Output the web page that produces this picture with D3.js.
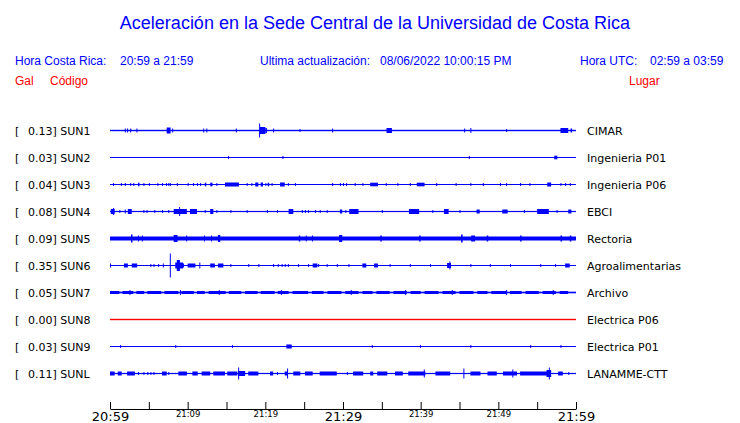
<!DOCTYPE html>
<html><head><meta charset="utf-8">
<script src="https://cdn.jsdelivr.net/npm/d3@7"></script>
<style>body{margin:0;background:#fff}svg{display:block}</style>
</head><body>
<svg id="c" width="740" height="423"></svg>
<script>
// ---------- data ----------
const codes  = ["SUN1","SUN2","SUN3","SUN4","SUN5","SUN6","SUN7","SUN8","SUN9","SUNL"];
const gal    = ["0.13","0.03","0.04","0.08","0.09","0.35","0.05","0.00","0.03","0.11"];
const places = ["CIMAR","Ingenieria P01","Ingenieria P06","EBCI","Rectoria","Agroalimentarias","Archivo","Electrica P06","Electrica P01","LANAMME-CTT"];
const noise  = [0.7,0.5,0.5,0.6,2.0,0.5,0.8,0.7,0.5,0.6];   // background noise level
const tickMinutes = [0,5,10,15,20,25,30,35,40,45,50,55,60];
const tickLabels  = ["20:59","21:09","21:19","21:29","21:39","21:49","21:59"];
// bursts: [start minute, end minute, half amplitude]
const b1 = [[1.9,2.0,2],[2.2,2.3,2],[2.6,2.6,2],[3.4,3.4,2],[7.3,7.8,3],[8.0,8.0,2],[12.0,12.0,2],[12.4,12.4,2],[16.2,16.2,2],
  [19.2,19.2,7],[19.3,20.0,3.5],[20.0,20.2,2.5],[21.0,21.0,2],[24.4,24.4,1.5],[28.6,28.6,2],[35.6,36.3,2.5],[45.6,45.6,2],[46.4,46.4,2.5],
  [51.0,51.0,1.5],[58.0,59.0,2.5],[59.3,59.5,2]];
const b2 = [[15.2,15.2,1.5],[22.2,22.2,1.5],[46.2,46.2,1.5],[57.2,57.6,1.8]];
const b3 = [[0.4,0.4,1.5],[1.4,1.4,1.5],[1.9,1.9,1.5],[2.6,2.6,1.5],[3.0,3.0,1.5],[3.6,3.8,1.8],[4.3,4.3,1.5],[5.0,5.0,1.5],[6.1,6.1,1.5],
  [6.7,6.7,1.5],[7.2,7.2,1.5],[7.5,7.5,1.5],[7.7,7.7,1.5],[8.6,8.6,1.5],[10.0,10.0,1.5],[10.7,10.7,1.5],[11.2,11.2,1.5],[11.6,11.6,1.5],
  [12.2,12.4,1.8],[12.9,13.2,1.8],[13.7,13.7,1.5],[14.8,16.6,2],[17.6,17.6,1.5],[18.2,18.2,1.5],[18.7,19.1,2],[19.4,19.7,2],[20.0,20.0,1.5],
  [20.3,20.5,1.8],[20.8,20.8,1.5],[21.9,22.5,2],[22.9,22.9,1.5],[23.8,23.8,1.5],[28.6,28.6,1.5],[29.6,29.6,1.5],[30.0,30.0,1.5],[30.4,30.4,1.5],
  [31.5,31.5,1.5],[32.5,32.5,1.5],[33.5,34.5,1.8],[35.5,35.5,1.5],[37.0,37.0,1.5],[38.6,38.6,1.5],[39.5,40.5,1.8],[42.0,42.0,1.5],
  [44.5,44.5,1.5],[46.4,46.4,1.5],[48.0,48.0,1.5],[50.2,50.2,1.5],[51.0,51.0,1.5],[52.8,52.8,1.5],[54.0,54.0,1.5],[56.3,56.8,2],
  [58.0,58.0,1.5],[58.6,58.6,1.5],[59.2,59.2,1.5]];
const b4 = [[0.1,0.6,2.5],[0.4,0.4,3.5],[1.2,1.2,1.5],[1.9,1.9,2],[2.3,2.8,2.5],[4.3,4.3,1.5],[4.7,4.7,1.5],[5.7,5.7,1.5],[6.7,6.7,1.5],
  [7.5,7.5,1.5],[8.2,9.9,2.5],[8.9,8.9,4.5],[10.3,11.2,2.5],[12.2,12.2,1.5],[12.9,13.3,2.5],[13.7,13.7,1.5],[15.5,15.5,1.5],[17.6,17.6,1.5],
  [20.2,20.2,1.5],[21.5,21.5,1.5],[23.0,23.6,2.5],[24.7,24.7,1.5],[25.1,25.1,1.5],[25.5,25.5,1.5],[26.4,26.4,1.5],[27.0,27.0,1.5],
  [27.9,27.9,1.5],[29.6,29.9,2],[30.3,30.3,1.5],[30.8,32.0,2.5],[35.0,35.0,1.5],[38.5,39.8,2.5],[41.5,41.5,1.5],[43.0,43.6,2.5],
  [45.0,45.0,1.5],[47.2,47.6,2],[50.5,51.2,2],[53.3,53.3,1.5],[55.0,56.5,2.5],[57.5,57.5,1.5],[59.0,59.4,2]];
const b5 = [[2.7,2.9,4],[3.6,3.6,3],[4.1,4.1,3],[8.2,8.7,3.5],[9.8,9.8,3],[12.1,12.1,3],[13.0,13.0,3],[13.9,14.2,3.5],[24.3,24.5,3],
  [25.2,25.2,3],[26.0,26.0,3],[29.5,29.9,3.5],[34.8,35.0,3],[39.8,40.0,3],[45.2,45.4,4],[46.5,47.0,3],[48.5,48.7,3],[52.8,53.0,3],
  [58.0,58.2,3],[59.2,59.4,3]];
const b6 = [[0.0,0.0,2],[1.8,2.3,2],[2.8,3.5,2],[5.2,5.2,1.5],[5.6,5.6,1.5],[6.2,6.2,1.5],[6.8,6.8,2],[7.7,7.7,12],[8.4,9.4,3],[8.6,9.0,5.5],
  [9.4,9.4,2],[10.0,11.0,2],[11.5,11.5,3],[12.9,13.5,2],[13.9,14.6,2],[15.5,15.5,1.5],[17.8,17.8,1.5],[19.1,19.1,1.5],[21.0,21.0,1.5],
  [21.6,21.6,1.5],[22.1,22.1,1.5],[22.5,22.5,1.5],[22.9,22.9,1.5],[24.2,24.2,1.5],[25.5,25.5,1.5],[26.1,26.7,2],[26.8,26.8,1.5],
  [27.9,27.9,1.5],[29.2,29.2,1.5],[30.7,30.7,1.5],[32.5,33.0,2],[34.0,34.5,2],[36.0,36.0,1.5],[38.6,38.6,1.5],[41.2,41.2,1.5],
  [43.4,43.9,2.5],[43.7,43.7,4],[46.4,46.4,1.5],[48.9,48.9,1.5],[51.5,51.5,1.5],[55.4,55.4,1.5],[57.3,57.3,1.5],[58.6,59.2,2]];
const b7 = [[0.0,1.2,1.5],[1.6,3.0,1.5],[3.4,4.4,1.5],[4.8,6.6,1.5],[7.0,8.8,1.5],[9.2,10.8,1.5],[11.2,12.2,1.5],[12.7,14.9,1.5],
  [15.3,16.9,1.5],[17.4,19.0,1.5],[19.4,21.2,1.5],[21.6,23.0,1.5],[23.5,25.5,1.5],[26.0,27.5,1.5],[28.0,29.8,1.5],[30.3,32.0,1.5],
  [32.5,33.8,1.5],[34.3,36.0,1.5],[36.5,38.2,1.5],[38.7,40.0,1.5],[40.5,42.3,1.5],[42.8,44.5,1.5],[45.0,46.8,1.5],[47.3,48.6,1.5],
  [49.1,51.0,1.5],[51.5,53.0,1.5],[53.5,55.2,1.5],[55.7,57.4,1.5],[57.9,59.0,1.5],
  [2.5,2.5,2.5],[9.0,9.0,2.5],[14.0,14.0,2.5],[22.0,22.0,2.5],[31.0,31.0,2.5],[38.0,38.0,2.5],[44.0,44.0,2.5],[51.0,51.0,2.5],[57.0,57.0,2.5]];
const b8 = [];
const b9 = [[1.3,1.3,1.5],[8.4,8.4,1.5],[15.7,15.7,1.5],[22.7,23.4,2],[33.7,33.7,1.5],[39.9,39.9,1.5],[46.4,46.4,1.5],[54.1,54.1,1.5],[58.0,58.0,1.5]];
const bL = [[0.0,0.6,2],[1.0,1.5,2],[2.2,3.2,2],[3.6,3.6,1.5],[4.3,4.3,1.5],[4.8,4.8,1.5],[5.2,5.2,1.5],[5.6,5.6,1.5],[6.7,7.3,2],
  [7.5,7.5,1.5],[8.8,9.9,2],[10.6,11.3,2],[11.8,12.9,2],[13.3,14.8,2],[15.1,16.4,2],[16.5,16.5,6],[16.5,17.4,2.5],[17.8,19.1,2],
  [20.6,21.0,2],[21.5,21.5,1.5],[22.5,22.9,2],[22.8,22.8,5],[23.6,24.5,2],[25.1,26.1,2],[27.0,29.2,2],[30.5,30.5,1.5],
  [31.3,32.6,2],[33.5,33.9,2],[34.4,35.7,2],[36.7,37.7,2],[38.4,40.6,2],[40.4,40.4,4],[41.9,43.8,2],[45.5,45.5,5],[46.4,47.7,2],
  [48.6,49.8,2],[50.6,52.4,2],[51.8,51.8,4],[52.8,56.3,2],[56.5,56.5,6],[56.2,56.8,3.5],[57.7,58.3,2],[59.0,59.0,1.5]];
const burstSets = [b1,b2,b3,b4,b5,b6,b7,b8,b9,bL];
const traceColors = ["#0000ff","#0000ff","#0000ff","#0000ff","#0000ff","#0000ff","#0000ff","#ff0000","#0000ff","#0000ff"];

// ---------- drawing ----------
const svg = d3.select("#c");
const BLUE = "#0000ff", RED = "#ff0000";
const x = d3.scaleLinear().domain([0,60]).range([110,576]);
const y = d3.scalePoint().domain(codes).range([130.5,373.5]);
const amp = d3.scaleLinear().domain([0,12]).range([0,12]);

svg.append("text").attr("x",375).attr("y",29).attr("text-anchor","middle")
  .attr("font-family","Liberation Sans, Arial, sans-serif").attr("font-size",18).attr("fill",BLUE)
  .text("Aceleración en la Sede Central de la Universidad de Costa Rica");

const hdr = [
  {t:"Hora Costa Rica:",x:15,y:65,c:BLUE},{t:"20:59 a 21:59",x:120,y:65,c:BLUE},
  {t:"Ultima actualización:",x:260,y:65,c:BLUE},{t:"08/06/2022 10:00:15 PM",x:380,y:65,c:BLUE},
  {t:"Hora UTC:",x:580,y:65,c:BLUE},{t:"02:59 a 03:59",x:650,y:65,c:BLUE},
  {t:"Gal",x:15,y:85,c:RED},{t:"Código",x:50,y:85,c:RED},{t:"Lugar",x:629,y:85,c:RED}];
svg.append("g").selectAll("text").data(hdr).join("text")
  .attr("x",d=>d.x).attr("y",d=>d.y).attr("fill",d=>d.c)
  .attr("font-family","Liberation Sans, Arial, sans-serif").attr("font-size",12).text(d=>d.t);

const rows = svg.append("g").selectAll("g").data(codes).join("g")
  .attr("transform",d=>`translate(0,${y(d)})`);
const lf = "DejaVu Sans, sans-serif";
rows.append("text").attr("x",15).attr("y",4).attr("font-family",lf).attr("font-size",11).text("[");
rows.append("text").attr("x",28).attr("y",4).attr("font-family",lf).attr("font-size",11)
  .text((d,i)=>gal[i]+"] "+d);
rows.append("text").attr("x",587).attr("y",4).attr("font-family",lf).attr("font-size",11)
  .text((d,i)=>places[i]);
// base trace
rows.append("rect").attr("x",x(0)).attr("width",x(60)-x(0))
  .attr("y",(d,i)=>-Math.max(0.5,amp(noise[i])))
  .attr("height",(d,i)=>2*Math.max(0.5,amp(noise[i])))
  .attr("fill",(d,i)=>traceColors[i]);
// bursts
rows.each(function(d,i){
  d3.select(this).selectAll("rect.b").data(burstSets[i]).join("rect").attr("class","b")
    .attr("x",b=>x(b[0])).attr("width",b=>Math.max(1,x(b[1])-x(b[0])))
    .attr("y",b=>-amp(b[2])).attr("height",b=>2*amp(b[2]))
    .attr("fill",traceColors[i]);
});

// axis
const ax = svg.append("g").attr("transform","translate(0,409)");
ax.call(d3.axisBottom(x).tickValues(tickMinutes).tickSizeInner(-7).tickSizeOuter(0)
  .tickFormat(m => m%10===0 ? tickLabels[m/10] : ""));
ax.select(".domain").attr("stroke","#000");
ax.selectAll(".tick line").attr("stroke","#000");
ax.selectAll(".tick text").attr("font-family",lf).attr("fill","#000")
  .attr("dy",null)
  .attr("y",m => (m%30===0) ? 11.5 : 8)
  .attr("font-size",m => (m%30===0) ? 13 : 8.5);
</script>
</body></html>
